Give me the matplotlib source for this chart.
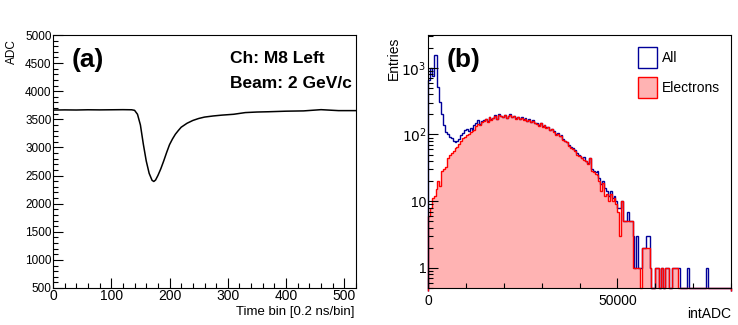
import numpy as np
import matplotlib
matplotlib.use("Agg")
import matplotlib.pyplot as plt
from matplotlib.patches import Rectangle
from matplotlib.ticker import MultipleLocator, LogLocator, NullFormatter, FixedLocator

plt.rcParams['font.family'] = ['Liberation Sans', 'DejaVu Sans']

# (a) waveform, time bin vs ADC
t_bin = [0, 20, 40, 60, 80, 100, 120, 135, 140, 145, 150, 155, 160, 165, 170,
         173, 176, 180, 185, 190, 195, 200, 205, 210, 215, 220, 230, 240, 250,
         260, 275, 290, 310, 330, 350, 370, 400, 430, 460, 490, 520]
adc = [3665, 3668, 3666, 3670, 3668, 3670, 3672, 3670, 3660, 3590, 3400, 3060,
       2760, 2540, 2415, 2395, 2420, 2500, 2620, 2760, 2910, 3050, 3150, 3235,
       3300, 3360, 3430, 3480, 3515, 3540, 3560, 3575, 3590, 3620, 3630, 3635,
       3645, 3650, 3672, 3655, 3655]

# (b) intADC histograms, 160 bins of 500 from 0 to 80000
edges = np.arange(0, 80001, 500)
all_counts = [
    650, 1000, 750, 1550, 1560, 520, 310, 205, 140, 108,
    100, 92, 88, 80, 77, 79, 85, 97, 105, 115,
    122, 112, 125, 118, 137, 150, 163, 142, 160, 167,
    173, 158, 182, 168, 178, 195, 172, 200, 190, 183,
    196, 178, 190, 202, 182, 190, 175, 186, 172, 180,
    168, 175, 162, 170, 156, 163, 150, 148, 138, 150,
    132, 140, 128, 131, 118, 122, 112, 100, 104, 96,
    97, 85, 81, 78, 70, 64, 62, 58, 52, 50,
    48, 45, 46, 40, 38, 44, 30, 28, 27, 28,
    22, 18, 20, 16, 14, 12, 14, 11, 12, 10,
    8, 8, 10, 5, 5, 7, 5, 5, 3, 1,
    3, 1, 1, 2, 2, 3, 3, 1, 0, 0,
    1, 1, 0, 1, 0, 1, 1, 0, 0, 1,
    1, 1, 1, 0, 0, 0, 0, 1, 0, 0,
    0, 0, 0, 0, 0, 0, 0, 1, 0, 0,
    0, 0, 0, 0, 0, 0, 0, 0, 0, 0]
electron_counts = [
    6, 8, 11, 12, 15, 20, 17, 28, 30, 33,
    45, 50, 52, 56, 62, 64, 72, 81, 88, 91,
    97, 100, 108, 112, 118, 135, 146, 138, 155, 160,
    170, 155, 180, 166, 176, 192, 170, 197, 188, 180,
    193, 176, 188, 199, 180, 187, 173, 183, 170, 177,
    165, 172, 160, 167, 154, 160, 148, 146, 136, 148,
    130, 138, 126, 129, 116, 120, 110, 98, 102, 95,
    95, 83, 79, 76, 68, 62, 60, 56, 50, 48,
    47, 44, 42, 40, 36, 44, 28, 27, 26, 25,
    20, 14, 19, 12, 13, 10, 13, 10, 11, 9,
    7, 3, 10, 5, 5, 5, 5, 5, 1, 1,
    1, 1, 0, 2, 2, 2, 2, 1, 0, 0,
    1, 1, 0, 1, 0, 1, 1, 0, 0, 1,
    1, 1, 0, 0, 0, 0, 0, 0, 0, 0,
    0, 0, 0, 0, 0, 0, 0, 0, 0, 0,
    0, 0, 0, 0, 0, 0, 0, 0, 0, 0]

W, H = 738, 325
fig = plt.figure(figsize=(W / 100, H / 100), dpi=100)

def px_axes(x0, y_top, w, h):
    return fig.add_axes([x0 / W, 1 - (y_top + h) / H, w / W, h / H])

# ---- panel (a)
ax1 = px_axes(53, 35, 303, 253)
ax1.plot(t_bin, adc, color='black', lw=1.1)
ax1.set_xlim(0, 520)
ax1.set_ylim(500, 5000)
ax1.xaxis.set_major_locator(MultipleLocator(100))
ax1.xaxis.set_minor_locator(MultipleLocator(20))
ax1.yaxis.set_major_locator(MultipleLocator(500))
ax1.yaxis.set_minor_locator(MultipleLocator(100))
ax1.tick_params(axis='x', which='major', labelsize=10, pad=1)
ax1.tick_params(axis='y', which='major', labelsize=8.5, pad=1)
ax1.text(0.115, 0.90, '(a)', transform=ax1.transAxes, fontsize=19,
         fontweight='bold', ha='center', va='center')
ax1.text(0.584, 0.889, 'Ch: M8 Left', transform=ax1.transAxes, fontsize=12.5,
         fontweight='bold', va='baseline')
ax1.text(0.584, 0.79, 'Beam: 2 GeV/c', transform=ax1.transAxes, fontsize=12.5,
         fontweight='bold', va='baseline')

# ---- panel (b)
ax2 = px_axes(428, 35, 303, 253)
ec = np.maximum(np.array(electron_counts, float), 0.5)
al = np.maximum(np.array(all_counts, float), 0.5)
ax2.stairs(ec, edges, fill=True, baseline=0.5, color='#ffb3b3', lw=0)
ax2.stairs(al, edges, baseline=0.45, color='#000099', lw=1.0, clip_on=False)
ax2.stairs(ec, edges, baseline=0.45, color='#ff0000', lw=1.0, clip_on=False)
ax2.set_yscale('log')
ax2.set_xlim(0, 80000)
ax2.set_ylim(0.5, 3100)
ax2.xaxis.set_major_locator(FixedLocator([0, 50000]))
ax2.xaxis.set_minor_locator(MultipleLocator(10000))
ax2.yaxis.set_major_locator(FixedLocator([1, 10, 100, 1000]))
ax2.yaxis.set_minor_locator(LogLocator(base=10, subs=np.arange(2, 10)))
ax2.yaxis.set_minor_formatter(NullFormatter())
ax2.set_yticklabels(['1', '10', r'$10^{2}$', r'$10^{3}$'])
ax2.tick_params(axis='x', which='major', labelsize=10, pad=4)
ax2.tick_params(axis='y', which='major', labelsize=10, pad=1)
ax2.text(0.116, 0.90, '(b)', transform=ax2.transAxes, fontsize=19,
         fontweight='bold', ha='center', va='center')

# legend
ax2.add_patch(Rectangle((0.693, 0.870), 0.063, 0.083, transform=ax2.transAxes,
                        facecolor='white', edgecolor='#000099', lw=1.0))
ax2.add_patch(Rectangle((0.693, 0.751), 0.063, 0.083, transform=ax2.transAxes,
                        facecolor='#ffb3b3', edgecolor='#ff0000', lw=1.0))
ax2.text(0.772, 0.911, 'All', transform=ax2.transAxes, fontsize=10, va='center')
ax2.text(0.772, 0.792, 'Electrons', transform=ax2.transAxes, fontsize=10, va='center')

for ax in (ax1, ax2):
    ax.tick_params(which='both', direction='in', top=False, right=False, width=0.8)
    ax.tick_params(which='major', length=7)
    ax.tick_params(which='minor', length=3.5)
    for s in ax.spines.values():
        s.set_linewidth(0.8)

# axis titles (ROOT style: at the ends of the axes)
fig.text(12 / W, 1 - 39 / H, 'ADC', rotation=90, ha='center', va='top', fontsize=8.5)
fig.text(355 / W, 1 - 306 / H, 'Time bin [0.2 ns/bin]', ha='right', va='top', fontsize=9.5)
fig.text(394 / W, 1 - 37 / H, 'Entries', rotation=90, ha='center', va='top', fontsize=10)
fig.text(731 / W, 1 - 307 / H, 'intADC', ha='right', va='top', fontsize=10)

fig.savefig('out.png', dpi=100)
